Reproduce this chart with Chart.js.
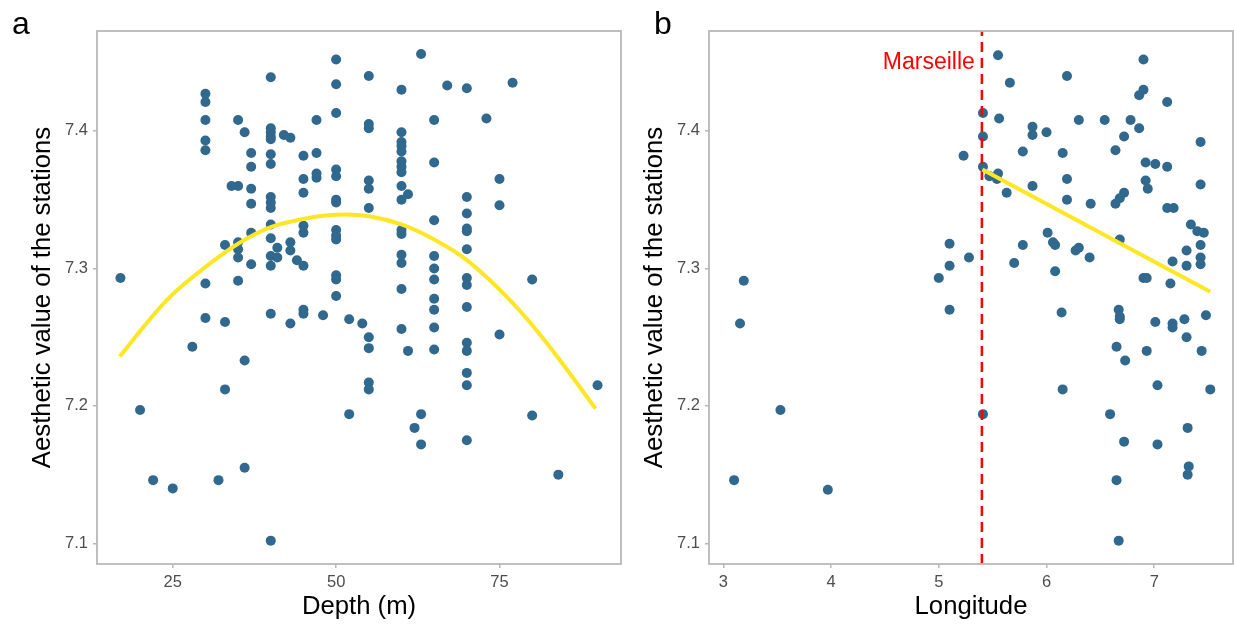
<!DOCTYPE html>
<html>
<head>
<meta charset="utf-8">
<script src="https://cdn.jsdelivr.net/npm/chart.js@4.4.1/dist/chart.umd.min.js"></script>
<style>
  body { margin: 0; background: #fff; }
  #wrap { position: relative; width: 1234px; height: 624px; }
  canvas { position: absolute; top: 0; }
</style>
</head>
<body>
<div id="wrap">
  <canvas id="chartA" width="625" height="624" style="left:0"></canvas>
  <canvas id="chartB" width="609" height="624" style="left:625px"></canvas>
</div>
<script>
// panel a : depth vs aesthetic value
const depthA = [
  17, 20, 22, 25, 28,
  30, 30, 30, 30, 30, 30, 30,
  32, 33, 33, 33, 34,
  35, 35, 35, 35, 35, 35,
  36, 36, 36,
  37, 37, 37, 37, 37, 37,
  40, 40, 40, 40, 40, 40, 40, 40, 40, 40, 40, 40, 40, 40, 40, 40,
  41, 41, 42,
  43, 43, 43, 43, 44,
  45, 45, 45, 45, 45, 45, 45, 45,
  47, 47, 47, 47, 48,
  50, 50, 50, 50, 50, 50, 50, 50, 50, 50, 50, 50, 50,
  52, 52, 54,
  55, 55, 55, 55, 55, 55, 55, 55, 55, 55,
  60, 60, 60, 60, 60, 60, 60, 60, 60, 60, 60, 60, 60, 60, 60, 60,
  61, 61, 62, 63, 63, 63,
  65, 65, 65, 65, 65, 65, 65, 65, 65, 65,
  67,
  70, 70, 70, 70, 70, 70, 70, 70, 70, 70, 70, 70, 70, 70,
  73, 75, 75, 75, 77, 80, 80, 84, 90
];
const aestheticA = [
  7.293, 7.197, 7.146, 7.140, 7.243,
  7.427, 7.421, 7.408, 7.393, 7.386, 7.289, 7.264,
  7.146, 7.317, 7.261, 7.212, 7.360,
  7.408, 7.360, 7.319, 7.314, 7.308, 7.291,
  7.399, 7.233, 7.155,
  7.384, 7.374, 7.358, 7.347, 7.326, 7.303,
  7.439, 7.402, 7.399, 7.396, 7.394, 7.383, 7.376, 7.352, 7.348, 7.344, 7.332, 7.322, 7.309, 7.302, 7.267, 7.102,
  7.315, 7.308, 7.397,
  7.395, 7.319, 7.313, 7.260, 7.306,
  7.382, 7.365, 7.355, 7.331, 7.326, 7.302, 7.270, 7.267,
  7.408, 7.384, 7.369, 7.366, 7.266,
  7.452, 7.434, 7.413, 7.372, 7.367, 7.350, 7.348, 7.328, 7.324, 7.321, 7.295, 7.292, 7.280,
  7.263, 7.194, 7.260,
  7.440, 7.405, 7.402, 7.364, 7.358, 7.344, 7.250, 7.242, 7.217, 7.212,
  7.430, 7.399, 7.392, 7.389, 7.385, 7.378, 7.374, 7.370, 7.360, 7.350, 7.328, 7.325, 7.310, 7.304, 7.285, 7.256,
  7.354, 7.240, 7.184, 7.456, 7.194, 7.172,
  7.408, 7.377, 7.335, 7.309, 7.300, 7.292, 7.278, 7.270, 7.257, 7.241,
  7.433,
  7.431, 7.352, 7.340, 7.329, 7.327, 7.314, 7.293, 7.288, 7.272, 7.246, 7.240, 7.224, 7.215, 7.175,
  7.409, 7.365, 7.346, 7.252, 7.435, 7.292, 7.193, 7.150, 7.215
];
// smooth curve
const fitDepth = [16.9, 24.1, 30, 35, 40, 45, 50, 55, 60, 65, 70, 76.6, 82.2, 89.7];
const fitA = [7.236, 7.277, 7.301, 7.318, 7.330, 7.336, 7.339, 7.338, 7.332, 7.321, 7.306, 7.277, 7.246, 7.198];

// panel b : longitude vs aesthetic value
const lonB = [
  3.19, 3.155, 3.53, 3.10, 3.97,
  5.00, 5.10, 5.10, 5.10, 5.23, 5.28,
  5.41, 5.41, 5.41, 5.41,
  5.47, 5.54, 5.55, 5.55, 5.56, 5.63, 5.66, 5.70,
  5.78, 5.78, 5.87, 5.87, 5.87,
  6.00, 6.01, 6.06, 6.08, 6.08, 6.14, 6.15, 6.15,
  6.19, 6.19, 6.19, 6.30, 6.30, 6.27, 6.40, 6.41,
  6.54, 6.59, 6.64, 6.64, 6.65, 6.65, 6.67, 6.67,
  6.68, 6.68, 6.68, 6.68, 6.72, 6.72, 6.72, 6.73, 6.78,
  6.86, 6.86, 6.90, 6.90, 6.90, 6.92, 6.92, 6.93, 6.93, 6.94,
  7.01, 7.01, 7.03, 7.03, 7.12, 7.12, 7.12,
  7.15, 7.17, 7.17, 7.17, 7.18,
  7.28, 7.30, 7.30, 7.30, 7.31, 7.31, 7.32,
  7.34, 7.40, 7.43, 7.43, 7.43, 7.43, 7.43, 7.44,
  7.46, 7.48, 7.52
];
const aestheticB = [
  7.291, 7.260, 7.197, 7.146, 7.139,
  7.293, 7.318, 7.302, 7.270, 7.382, 7.308,
  7.413, 7.396, 7.374, 7.194,
  7.367, 7.365, 7.369, 7.455, 7.409, 7.355, 7.435, 7.304,
  7.385, 7.317, 7.403, 7.397, 7.360,
  7.399, 7.326, 7.319, 7.317, 7.298, 7.268, 7.384, 7.212,
  7.440, 7.365, 7.350, 7.408, 7.315, 7.313, 7.308, 7.347,
  7.408, 7.194, 7.386, 7.347, 7.243, 7.146, 7.270, 7.102,
  7.351, 7.321, 7.265, 7.263, 7.396, 7.355, 7.174, 7.233, 7.408,
  7.426, 7.402, 7.452, 7.430, 7.293, 7.377, 7.364, 7.293, 7.240, 7.358,
  7.261, 7.376, 7.215, 7.172, 7.421, 7.374, 7.344,
  7.289, 7.305, 7.260, 7.257, 7.344,
  7.263, 7.313, 7.302, 7.250, 7.184, 7.150, 7.156,
  7.332, 7.327, 7.392, 7.361, 7.317, 7.308, 7.303, 7.240,
  7.326, 7.266, 7.212
];
const fitLon = [5.405, 7.52];
const fitB = [7.372, 7.283];
const marseilleLon = 5.40;

const depthTicks = [25, 50, 75];
const lonTicks = [3, 4, 5, 6, 7];
const valueTicks = [7.1, 7.2, 7.3, 7.4];
const yMin = 7.085, yMax = 7.4727;

const FONT = "'Liberation Sans', Arial, Helvetica, sans-serif";
Chart.defaults.font.family = FONT;

const dotColor = '#31688E';
const fitColor = '#FDE725';
const frameColor = '#b8b8b8';

const toXY = (xs, ys) => xs.map((x, i) => ({ x: x, y: ys[i] }));

// frame box, panel letter and the Marseille label
const panelDecor = {
  id: 'panelDecor',
  afterDatasetsDraw(chart, args, opts) {
    const { ctx, chartArea: a } = chart;
    ctx.save();
    ctx.strokeStyle = frameColor;
    ctx.lineWidth = 1.8;
    ctx.strokeRect(a.left, a.top, a.right - a.left, a.bottom - a.top);
    ctx.fillStyle = '#000';
    ctx.font = '32px ' + FONT;
    ctx.textAlign = 'left';
    ctx.textBaseline = 'alphabetic';
    ctx.fillText(opts.letter, opts.letterX, 34);
    if (opts.marker) {
      const px = chart.scales.x.getPixelForValue(opts.marker.x);
      const py = chart.scales.y.getPixelForValue(opts.marker.y);
      ctx.fillStyle = '#FF0000';
      ctx.font = '23px ' + FONT;
      ctx.textAlign = 'right';
      ctx.textBaseline = 'middle';
      ctx.fillText(opts.marker.text, px - 7, py);
    }
    ctx.restore();
  }
};

function makeOptions(cfg) {
  return {
    responsive: false,
    animation: false,
    layout: { autoPadding: false, padding: { top: 31, right: cfg.padRight, bottom: 0, left: 0 } },
    plugins: {
      legend: { display: false },
      tooltip: { enabled: false },
      panelDecor: { letter: cfg.letter, letterX: cfg.letterX, marker: cfg.marker }
    },
    scales: {
      x: {
        type: 'linear',
        min: cfg.xMin,
        max: cfg.xMax,
        afterBuildTicks: s => { s.ticks = cfg.xTicks.map(v => ({ value: v })); },
        afterFit: s => { s.height = 60; },
        border: { display: false },
        grid: { drawOnChartArea: false, drawTicks: true, tickLength: 4, color: frameColor, lineWidth: 1.5 },
        ticks: { padding: 5, color: '#4d4d4d', font: { size: 16.5 } },
        title: { display: true, text: cfg.xTitle, color: '#000', font: { size: 25.7 }, padding: { top: 0, bottom: 2 } }
      },
      y: {
        type: 'linear',
        min: yMin,
        max: yMax,
        afterBuildTicks: s => { s.ticks = valueTicks.map(v => ({ value: v })); },
        afterFit: s => { s.width = cfg.yWidth; },
        border: { display: false },
        grid: { drawOnChartArea: false, drawTicks: true, tickLength: 4, color: frameColor, lineWidth: 1.5 },
        ticks: { padding: 5, color: '#4d4d4d', font: { size: 16.5 }, callback: v => v.toFixed(1) },
        title: { display: true, text: 'Aesthetic value of the stations', color: '#000', font: { size: 25.7 }, padding: { top: cfg.yTitlePad, bottom: 0 } }
      }
    }
  };
}

new Chart(document.getElementById('chartA'), {
  type: 'scatter',
  data: {
    datasets: [
      {
        data: toXY(fitDepth, fitA),
        showLine: true,
        borderColor: fitColor,
        borderWidth: 4,
        pointRadius: 0,
        tension: 0.4,
        order: 0
      },
      {
        data: toXY(depthA, aestheticA),
        backgroundColor: dotColor,
        borderColor: dotColor,
        borderWidth: 0,
        pointRadius: 5,
        order: 2
      }
    ]
  },
  options: makeOptions({
    padRight: 4, yWidth: 97, yTitlePad: 27,
    xMin: 13.41, xMax: 93.59, xTicks: depthTicks, xTitle: 'Depth (m)',
    letter: 'a', letterX: 12
  }),
  plugins: [panelDecor]
});

new Chart(document.getElementById('chartB'), {
  type: 'scatter',
  data: {
    datasets: [
      {
        data: toXY(fitLon, fitB),
        showLine: true,
        borderColor: fitColor,
        borderWidth: 4,
        pointRadius: 0,
        order: 0
      },
      {
        data: [{ x: marseilleLon, y: yMin }, { x: marseilleLon, y: yMax }],
        showLine: true,
        borderColor: '#FF0000',
        borderWidth: 2.5,
        borderDash: [10, 6],
        pointRadius: 0,
        order: 1
      },
      {
        data: toXY(lonB, aestheticB),
        backgroundColor: dotColor,
        borderColor: dotColor,
        borderWidth: 0,
        pointRadius: 5,
        order: 2
      }
    ]
  },
  options: makeOptions({
    padRight: 1, yWidth: 84, yTitlePad: 14,
    xMin: 2.867, xMax: 7.731, xTicks: lonTicks, xTitle: 'Longitude',
    letter: 'b', letterX: 29,
    marker: { x: marseilleLon, y: 7.4498, text: 'Marseille' }
  }),
  plugins: [panelDecor]
});
</script>
</body>
</html>
